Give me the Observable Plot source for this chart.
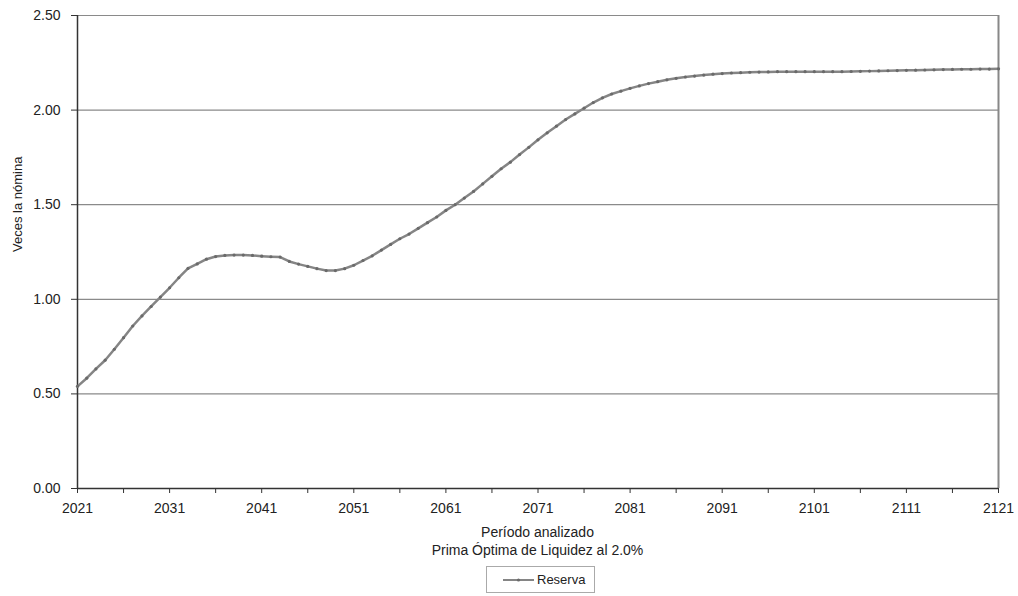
<!DOCTYPE html>
<html><head><meta charset="utf-8">
<script src="https://cdn.jsdelivr.net/npm/d3@7"></script>
<script src="https://cdn.jsdelivr.net/npm/@observablehq/plot@0.6"></script>
<style>
body{margin:0;background:#fff;font-family:"Liberation Sans",Arial,sans-serif;}
#wrap{position:relative;width:1018px;height:596px;overflow:hidden;}
#wrap svg.plot{position:absolute;left:0;top:0;}
.cap{position:absolute;left:0;width:1075px;text-align:center;font-size:14px;line-height:18px;color:#222;}
#legend{position:absolute;left:486px;top:566px;width:107px;height:25px;border:1px solid #aaa;display:flex;align-items:center;font-size:13px;color:#222;}
</style></head><body><div id="wrap"></div>
<script>
const startYear = 2021;
const reserva = [
  0.540, 0.583, 0.632, 0.678, 0.736, 0.797, 0.859, 0.912, 0.962, 1.012,
  1.061, 1.114, 1.163, 1.187, 1.212, 1.226, 1.232, 1.234, 1.234, 1.232,
  1.228, 1.225, 1.223, 1.200, 1.186, 1.174, 1.162, 1.152, 1.152, 1.162,
  1.180, 1.205, 1.230, 1.260, 1.290, 1.320, 1.345, 1.375, 1.405, 1.435,
  1.470, 1.500, 1.535, 1.570, 1.610, 1.650, 1.690, 1.725, 1.765, 1.803,
  1.843, 1.880, 1.915, 1.950, 1.980, 2.010, 2.040, 2.065, 2.085, 2.100,
  2.115, 2.128, 2.140, 2.150, 2.160, 2.168, 2.175, 2.180, 2.185, 2.190,
  2.193, 2.196, 2.198, 2.200, 2.201, 2.202, 2.203, 2.203, 2.203, 2.203,
  2.203, 2.203, 2.203, 2.203, 2.204, 2.205, 2.206, 2.207, 2.208, 2.209,
  2.210, 2.211, 2.212, 2.213, 2.214, 2.215, 2.216, 2.216, 2.217, 2.217,
  2.218
];
const years = d3.range(startYear, startYear + reserva.length);
const yTicks = [0, 0.5, 1.0, 1.5, 2.0, 2.5];
const xTicks = d3.range(2021, 2122, 5);
const xLabelYears = [2021, 2031, 2041, 2051, 2061, 2071, 2081, 2091, 2101, 2111, 2121];
const yTitle = "Veces la nómina";
const xTitle1 = "Período analizado";
const xTitle2 = "Prima Óptima de Liquidez al 2.0%";
const seriesName = "Reserva";

const data = years.map((y, i) => ({year: y, value: reserva[i]}));

const chart = Plot.plot({
  width: 1018,
  height: 530,
  marginTop: 15,
  marginLeft: 77,
  marginRight: 20,
  marginBottom: 42,
  style: {fontFamily: "'Liberation Sans', Arial, sans-serif", fontSize: "14px", color: "#222", background: "#fff"},
  x: {domain: [2021, 2121]},
  y: {domain: [0, 2.5]},
  marks: [
    Plot.gridY(yTicks, {stroke: "#8a8a8a", strokeOpacity: 1, strokeWidth: 1.2}),
    Plot.axisY(yTicks, {tickFormat: d => d.toFixed(2), tickSize: 6, tickPadding: 11, fontSize: 14, label: null, stroke: "#333"}),
    Plot.axisX(xTicks, {tickFormat: d => xLabelYears.includes(d) ? String(d) : "", tickSize: 5, tickPadding: 10, fontSize: 14, label: null, stroke: "#333"}),
    Plot.ruleX([2121], {stroke: "#888", strokeWidth: 2}),
    Plot.ruleY([0], {stroke: "#333", strokeWidth: 1.5}),
    Plot.ruleX([2021], {stroke: "#333", strokeWidth: 1.5}),
    Plot.line(data, {x: "year", y: "value", stroke: "#858585", strokeWidth: 2.5}),
    Plot.dot(data, {x: "year", y: "value", r: 1.6, fill: "#6a6a6a", stroke: "none"}),
    Plot.text([yTitle], {frameAnchor: "left", dx: -60, rotate: -90, fontSize: 13, fill: "#222"})
  ]
});
chart.classList.add("plot");
const wrap = document.getElementById("wrap");
wrap.appendChild(chart);

const c1 = document.createElement("div");
c1.className = "cap"; c1.style.top = "523px"; c1.textContent = xTitle1;
const c2 = document.createElement("div");
c2.className = "cap"; c2.style.top = "541px"; c2.textContent = xTitle2;
wrap.appendChild(c1); wrap.appendChild(c2);

const lg = document.createElement("div");
lg.id = "legend";
lg.innerHTML = `<svg width="48" height="10" style="margin-left:2px"><line x1="14" x2="45" y1="5" y2="5" stroke="#858585" stroke-width="2"/><circle cx="29.5" cy="5" r="1.6" fill="#6a6a6a"/></svg><span>${seriesName}</span>`;
wrap.appendChild(lg);
</script>
</body></html>
